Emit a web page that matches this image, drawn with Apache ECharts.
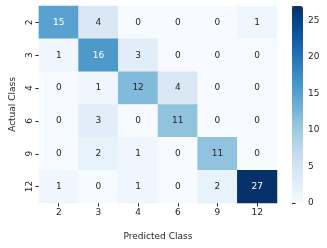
<!DOCTYPE html>
<html><head><meta charset="utf-8">
<script src="https://cdn.jsdelivr.net/npm/echarts@6/dist/echarts.min.js"></script>
<style>html,body{margin:0;padding:0;background:#fff}#c{width:327px;height:248px}</style>
</head><body><div id="c"></div>
<script>
const predicted = ['2','3','4','6','9','12'];
const actual = ['2','3','4','6','9','12'];
const row2 = [15,4,0,0,0,1];
const row3 = [1,16,3,0,0,0];
const row4 = [0,1,12,4,0,0];
const row6 = [0,3,0,11,0,0];
const row9 = [0,2,1,0,11,0];
const row12 = [1,0,1,0,2,27];
const colorbarTicks = [0,5,10,15,20,25];
const vmin = 0, vmax = 27;

const rows = [row2,row3,row4,row6,row9,row12];
const data = [];
rows.forEach((r,i)=>r.forEach((v,j)=>data.push([j,i,v])));
const blues = ['#f7fbff','#deebf7','#c6dbef','#9ecae1','#6baed6','#4292c6','#2171b5','#08519c','#08306b'];
const font = 'DejaVu Sans';
const txt = '#262626';

const chart = echarts.init(document.getElementById('c'));
chart.setOption({
  animation:false,
  textStyle:{fontFamily:font},
  grid:[
    {left:34, top:6, width:243, height:197},
    {left:292, top:6, width:11, height:197}
  ],
  xAxis:[
    {type:'category', data:predicted, gridIndex:0,
     name:'Predicted Class', nameLocation:'middle', nameGap:29,
     nameTextStyle:{fontFamily:font,fontSize:9,color:txt},
     axisLine:{show:false}, splitLine:{show:false}, splitArea:{show:false},
     axisTick:{show:true, alignWithLabel:true, length:3.5, lineStyle:{color:txt}},
     axisLabel:{fontFamily:font,fontSize:9,color:txt,margin:5}},
    {type:'value', gridIndex:1, show:false}
  ],
  yAxis:[
    {type:'category', data:actual, gridIndex:0, inverse:true,
     name:'Actual Class', nameLocation:'middle', nameGap:19, nameRotate:90,
     nameTextStyle:{fontFamily:font,fontSize:9,color:txt},
     axisLine:{show:false}, splitLine:{show:false},
     axisTick:{show:true, alignWithLabel:true, length:3.5, lineStyle:{color:txt}},
     axisLabel:{fontFamily:font,fontSize:9,color:txt,rotate:90,margin:5}},
    {type:'value', gridIndex:1, min:vmin, max:vmax, interval:5, position:'right',
     axisLine:{show:false}, splitLine:{show:false},
     axisTick:{show:true, length:3.5, lineStyle:{color:txt}},
     axisLabel:{fontFamily:font,fontSize:9,color:txt,margin:5,
       formatter:v=>colorbarTicks.includes(v)?String(v):''}}
  ],
  visualMap:{
    type:'continuous', min:vmin, max:vmax, seriesIndex:0,
    calculable:false, hoverLink:false, showLabel:false, text:null,
    left:292, top:6, padding:0, itemWidth:11, itemHeight:197,
    inRange:{color:blues}
  },
  series:[{
    type:'heatmap', xAxisIndex:0, yAxisIndex:0, data:data,
    label:{show:true, fontFamily:font, fontSize:9,
      formatter:p=>p.value[2]>=14?'{w|'+p.value[2]+'}':'{d|'+p.value[2]+'}',
      rich:{w:{color:'#ffffff',fontFamily:font,fontSize:9},d:{color:txt,fontFamily:font,fontSize:9}}},
    itemStyle:{borderWidth:0},
    emphasis:{disabled:true}
  }]
});
</script></body></html>
